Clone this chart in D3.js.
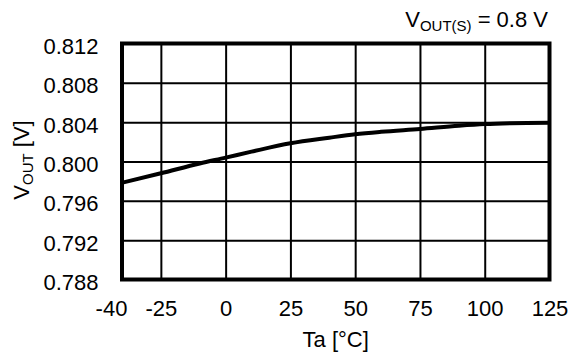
<!DOCTYPE html>
<html>
<head>
<meta charset="utf-8">
<script src="https://cdn.jsdelivr.net/npm/d3@7"></script>
<style>
  body { margin: 0; background: #fff; }
  svg text { font-family: "Liberation Sans", Arial, sans-serif; fill: #000; }
</style>
</head>
<body>
<div id="chart"></div>
<script>
// Ta [°C] et VOUT [V]
var temps = [-40, -25, -10, 0, 10, 25, 40, 50, 60, 75, 90, 100, 110, 125];
var vout = [0.79784, 0.7988, 0.7998, 0.80039, 0.801, 0.80185, 0.80242, 0.80277,
            0.80302, 0.80331, 0.80364, 0.80381, 0.8039, 0.80395];
var xTicks = [-40, -25, 0, 25, 50, 75, 100, 125];
var yTicks = [0.788, 0.792, 0.796, 0.800, 0.804, 0.808, 0.812];

var W = 580, H = 356;
var mLeft = 122, mRight = 549.5, mTop = 43.5, mBottom = 279.5;

var svg = d3.select("#chart").append("svg")
    .attr("width", W)
    .attr("height", H);

var x = d3.scaleLinear().domain([-40, 125]).range([mLeft, mRight]);
var y = d3.scaleLinear().domain([0.788, 0.812]).range([mBottom, mTop]);

// grille + graduations en bas
var gx = svg.append("g")
    .attr("transform", "translate(0," + mBottom + ")")
    .call(d3.axisBottom(x).tickValues(xTicks).tickSize(-(mBottom - mTop)).tickPadding(21)
        .tickFormat(function(d) { return String(d); }));
gx.select(".domain").remove();
gx.selectAll("line").attr("stroke", "#000").attr("stroke-width", 2);
gx.selectAll("text").style("font-size", "22px")
    .attr("dx", function(d) { return d == -40 ? -11 : 0; });

// grille + graduations a gauche
var gy = svg.append("g")
    .attr("transform", "translate(" + mLeft + ",0)")
    .call(d3.axisLeft(y).tickValues(yTicks).tickSize(-(mRight - mLeft)).tickPadding(23.5)
        .tickFormat(d3.format(".3f")));
gy.select(".domain").remove();
gy.selectAll("line").attr("stroke", "#000").attr("stroke-width", 2);
gy.selectAll("text").style("font-size", "22px").attr("dy", "0.45em");

// cadre
svg.append("rect")
    .attr("x", mLeft)
    .attr("y", mTop)
    .attr("width", mRight - mLeft)
    .attr("height", mBottom - mTop)
    .attr("fill", "none")
    .attr("stroke", "#000")
    .attr("stroke-width", 4);

// courbe
var line = d3.line()
    .x(function(d, i) { return x(temps[i]); })
    .y(function(d) { return y(d); })
    .curve(d3.curveMonotoneX);

svg.append("path")
    .datum(vout)
    .attr("d", line)
    .attr("fill", "none")
    .attr("stroke", "#000")
    .attr("stroke-width", 4);

// titres des axes
svg.append("text")
    .attr("x", (mLeft + mRight) / 2)
    .attr("y", 347)
    .attr("text-anchor", "middle")
    .style("font-size", "22px")
    .text("Ta [°C]");

var yl = svg.append("text")
    .attr("transform", "translate(29,160) rotate(-90)")
    .attr("text-anchor", "middle")
    .style("font-size", "22px");
yl.append("tspan").text("V");
yl.append("tspan").attr("dy", 4).style("font-size", "15px").text("OUT");
yl.append("tspan").attr("dy", -4).text(" [V]");

var tt = svg.append("text")
    .attr("x", 548)
    .attr("y", 27)
    .attr("text-anchor", "end")
    .style("font-size", "22px");
tt.append("tspan").text("V");
tt.append("tspan").attr("dy", 4).style("font-size", "15px").text("OUT(S)");
tt.append("tspan").attr("dy", -4).text(" = 0.8 V");
</script>
</body>
</html>
